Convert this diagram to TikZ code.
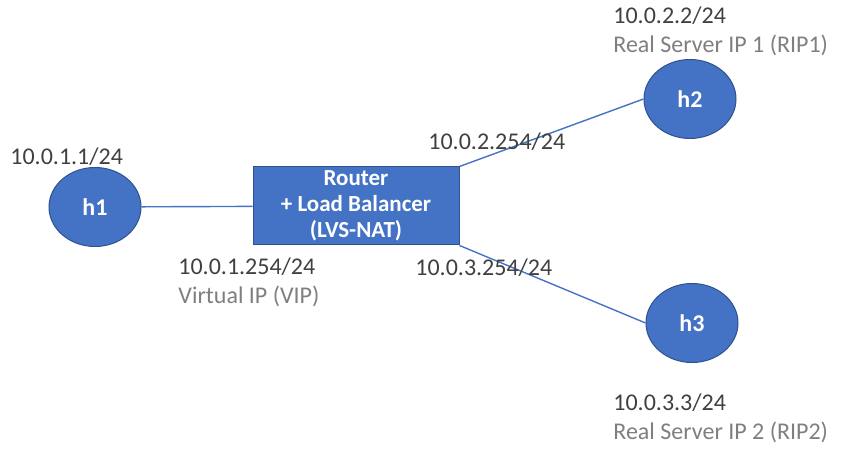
\documentclass[tikz,border=0pt]{standalone}
\usepackage{fontspec}
\setmainfont{Carlito}
\usetikzlibrary{shapes.geometric}
\definecolor{boxblue}{HTML}{4472C4}
\definecolor{rimblue}{HTML}{2F528F}
\definecolor{ipgray}{HTML}{404040}
\definecolor{descgray}{HTML}{7F7F7F}
\tikzset{
  host/.style={ellipse,fill=boxblue,draw=rimblue,line width=0.5pt,inner sep=0pt,
    minimum width=46pt,minimum height=39.5pt,
    text=white,font=\fontsize{12}{14}\selectfont\bfseries},
  router/.style={rectangle,fill=boxblue,draw=rimblue,line width=0.5pt,inner sep=0pt,
    minimum width=103pt,minimum height=39pt,
    text=white,align=center,font=\fontsize{11.5}{13}\selectfont\bfseries},
  iplabel/.style={anchor=west,inner sep=0pt,text=ipgray,font=\fontsize{12}{14}\selectfont},
  desclabel/.style={anchor=west,inner sep=0pt,text=descgray,font=\fontsize{12}{14}\selectfont},
  link/.style={draw=boxblue,line width=0.7pt}
}
\begin{document}
\begin{tikzpicture}[x=0.5pt,y=-0.5pt]
\useasboundingbox (0,0) rectangle (846,474);
% hosts and router
\node[host] (h1) at (95,207) {h1};
\node[host] (h2) at (690,99) {h2};
\node[host] (h3) at (692,323) {h3};
\node[router] (lb) at (356,206) {Router\\+ Load Balancer\\(LVS-NAT)};
% links
\draw[link] (h1) -- (lb);
\draw[link] (lb.north east) -- (h2.west);
\draw[link] (lb.south east) -- (h3.west);
% addresses
\node[iplabel] (ip1) at (10,157) {10.0.1.1/24};
\node[iplabel] (vip) at (178,267) {10.0.1.254/24};
\node[desclabel] (vipd) at (178,296) {Virtual IP (VIP)};
\node[iplabel] (gw2) at (428,142) {10.0.2.254/24};
\node[iplabel] (gw3) at (415,268) {10.0.3.254/24};
\node[iplabel] (ip2) at (613,16) {10.0.2.2/24};
\node[desclabel] (rip1) at (613,45) {Real Server IP 1 (RIP1)};
\node[iplabel] (ip3) at (613,403) {10.0.3.3/24};
\node[desclabel] (rip2) at (613,432) {Real Server IP 2 (RIP2)};
\end{tikzpicture}
\end{document}
